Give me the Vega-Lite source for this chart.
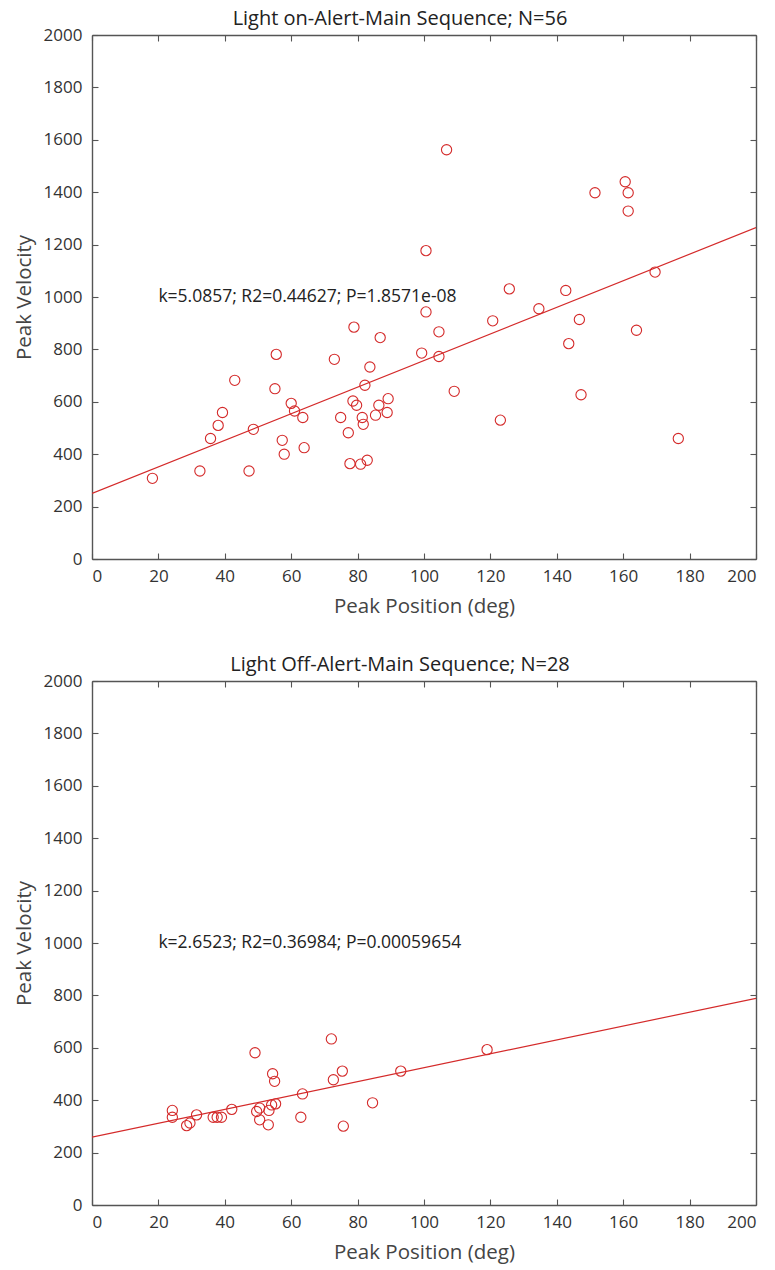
{
  "$schema": "https://vega.github.io/schema/vega-lite/v6.json",
  "background": "white",
  "padding": {"left": 14, "top": 9, "right": 8, "bottom": 2},
  "spacing": 38,
  "config": {
    "view": {"stroke": null},
    "font": "Open Sans",
    "title": {"fontSize": 20, "fontWeight": "normal", "color": "#222222", "font": "Open Sans", "offset": -3, "dx": -24},
    "axis": {
      "grid": false,
      "domainColor": "#555555",
      "domainWidth": 1.4,
      "tickColor": "#555555",
      "tickWidth": 1.1,
      "tickSize": -6,
      "format": "d",
      "labelFont": "Open Sans",
      "labelFontSize": 17,
      "labelColor": "#333333",
      "labelPadding": 16,
      "titleFont": "Open Sans",
      "titleFontSize": 20.5,
      "titleFontWeight": "normal",
      "titleColor": "#444444",
      "titlePadding": 9
    }
  },
  "datasets": {
    "on": [
      {"pos": 18.2, "vel": 308}, {"pos": 32.5, "vel": 336}, {"pos": 35.7, "vel": 460}, {"pos": 38, "vel": 510},
      {"pos": 39.3, "vel": 559}, {"pos": 43, "vel": 682}, {"pos": 47.3, "vel": 336}, {"pos": 48.6, "vel": 495},
      {"pos": 55.1, "vel": 650}, {"pos": 55.5, "vel": 781}, {"pos": 57.3, "vel": 453}, {"pos": 57.9, "vel": 400},
      {"pos": 60, "vel": 594}, {"pos": 61, "vel": 565}, {"pos": 63.5, "vel": 540}, {"pos": 63.9, "vel": 425},
      {"pos": 73, "vel": 762}, {"pos": 74.9, "vel": 540}, {"pos": 77.2, "vel": 482}, {"pos": 77.7, "vel": 364},
      {"pos": 78.6, "vel": 603}, {"pos": 78.9, "vel": 885}, {"pos": 79.7, "vel": 587}, {"pos": 80.9, "vel": 362},
      {"pos": 81.4, "vel": 540}, {"pos": 81.7, "vel": 514}, {"pos": 82.2, "vel": 663}, {"pos": 82.9, "vel": 377},
      {"pos": 83.7, "vel": 733}, {"pos": 85.4, "vel": 549}, {"pos": 86.4, "vel": 587}, {"pos": 86.8, "vel": 845},
      {"pos": 88.9, "vel": 559}, {"pos": 89.2, "vel": 612}, {"pos": 99.3, "vel": 786}, {"pos": 100.6, "vel": 1177},
      {"pos": 100.6, "vel": 943}, {"pos": 104.5, "vel": 773}, {"pos": 104.5, "vel": 867}, {"pos": 106.8, "vel": 1562},
      {"pos": 109.1, "vel": 640}, {"pos": 120.7, "vel": 909}, {"pos": 123, "vel": 530}, {"pos": 125.7, "vel": 1031},
      {"pos": 134.6, "vel": 955}, {"pos": 142.7, "vel": 1025}, {"pos": 143.6, "vel": 822}, {"pos": 146.8, "vel": 914},
      {"pos": 147.3, "vel": 627}, {"pos": 151.5, "vel": 1398}, {"pos": 160.6, "vel": 1440}, {"pos": 161.5, "vel": 1398},
      {"pos": 161.5, "vel": 1328}, {"pos": 164, "vel": 873}, {"pos": 169.6, "vel": 1095}, {"pos": 176.6, "vel": 460}
    ],
    "off": [
      {"pos": 24.2, "vel": 361}, {"pos": 24.2, "vel": 335}, {"pos": 28.5, "vel": 303}, {"pos": 29.5, "vel": 313},
      {"pos": 31.5, "vel": 344}, {"pos": 36.5, "vel": 335}, {"pos": 37.7, "vel": 335}, {"pos": 39, "vel": 335},
      {"pos": 42.1, "vel": 365}, {"pos": 49.1, "vel": 581}, {"pos": 49.6, "vel": 357}, {"pos": 50.5, "vel": 370},
      {"pos": 50.5, "vel": 325}, {"pos": 53.1, "vel": 306}, {"pos": 53.3, "vel": 361}, {"pos": 54.1, "vel": 382},
      {"pos": 55.3, "vel": 386}, {"pos": 54.4, "vel": 501}, {"pos": 55, "vel": 472}, {"pos": 62.9, "vel": 335},
      {"pos": 63.4, "vel": 424}, {"pos": 72.1, "vel": 634}, {"pos": 72.7, "vel": 478}, {"pos": 75.4, "vel": 511},
      {"pos": 75.7, "vel": 301}, {"pos": 84.5, "vel": 390}, {"pos": 93, "vel": 511}, {"pos": 119, "vel": 593}
    ],
    "on_fit": [{"pos": 0, "vel": 250}, {"pos": 200, "vel": 1265}],
    "off_fit": [{"pos": 0, "vel": 259}, {"pos": 200, "vel": 789}],
    "on_txt": [{"pos": 20, "vel": 1000, "label": "k=5.0857; R2=0.44627; P=1.8571e-08"}],
    "off_txt": [{"pos": 20, "vel": 1000, "label": "k=2.6523; R2=0.36984; P=0.00059654"}]
  },
  "vconcat": [
    {
      "title": {"text": "Light on-Alert-Main Sequence; N=56"},
      "width": 664,
      "height": 524,
      "resolve": {"axis": {"x": "independent", "y": "independent"}},
      "layer": [
        {
          "data": {"name": "on"},
          "mark": {"type": "point", "shape": "circle", "filled": false, "color": "#d42a2a", "size": 105, "strokeWidth": 1.1, "opacity": 1},
          "encoding": {
            "x": {"field": "pos", "type": "quantitative", "scale": {"domain": [0, 200], "nice": false, "zero": false}, "axis": {"title": "Peak Position (deg)", "values": [0,20,40,60,80,100,120,140,160,180,200], "orient": "bottom", "labelPadding": 15, "titlePadding": 12}},
            "y": {"field": "vel", "type": "quantitative", "scale": {"domain": [0, 2000], "nice": false}, "axis": {"title": "Peak Velocity", "values": [0,200,400,600,800,1000,1200,1400,1600,1800,2000], "orient": "left"}}
          }
        },
        {
          "data": {"name": "on_fit"},
          "mark": {"type": "line", "color": "#d42a2a", "strokeWidth": 1.2, "clip": true},
          "encoding": {
            "x": {"field": "pos", "type": "quantitative", "axis": {"orient": "top", "labels": false, "title": null, "values": [0,20,40,60,80,100,120,140,160,180,200]}},
            "y": {"field": "vel", "type": "quantitative", "axis": {"orient": "right", "labels": false, "title": null, "values": [0,200,400,600,800,1000,1200,1400,1600,1800,2000]}}
          }
        },
        {
          "data": {"name": "on_txt"},
          "mark": {"type": "text", "align": "left", "baseline": "middle", "fontSize": 17.5, "color": "#222222", "font": "Open Sans"},
          "encoding": {
            "x": {"field": "pos", "type": "quantitative", "axis": null},
            "y": {"field": "vel", "type": "quantitative", "axis": null},
            "text": {"field": "label"}
          }
        }
      ]
    },
    {
      "title": {"text": "Light Off-Alert-Main Sequence; N=28"},
      "width": 664,
      "height": 524,
      "resolve": {"axis": {"x": "independent", "y": "independent"}},
      "layer": [
        {
          "data": {"name": "off"},
          "mark": {"type": "point", "shape": "circle", "filled": false, "color": "#d42a2a", "size": 105, "strokeWidth": 1.1, "opacity": 1},
          "encoding": {
            "x": {"field": "pos", "type": "quantitative", "scale": {"domain": [0, 200], "nice": false, "zero": false}, "axis": {"title": "Peak Position (deg)", "values": [0,20,40,60,80,100,120,140,160,180,200], "orient": "bottom", "labelPadding": 15, "titlePadding": 12}},
            "y": {"field": "vel", "type": "quantitative", "scale": {"domain": [0, 2000], "nice": false}, "axis": {"title": "Peak Velocity", "values": [0,200,400,600,800,1000,1200,1400,1600,1800,2000], "orient": "left"}}
          }
        },
        {
          "data": {"name": "off_fit"},
          "mark": {"type": "line", "color": "#d42a2a", "strokeWidth": 1.2, "clip": true},
          "encoding": {
            "x": {"field": "pos", "type": "quantitative", "axis": {"orient": "top", "labels": false, "title": null, "values": [0,20,40,60,80,100,120,140,160,180,200]}},
            "y": {"field": "vel", "type": "quantitative", "axis": {"orient": "right", "labels": false, "title": null, "values": [0,200,400,600,800,1000,1200,1400,1600,1800,2000]}}
          }
        },
        {
          "data": {"name": "off_txt"},
          "mark": {"type": "text", "align": "left", "baseline": "middle", "fontSize": 17.5, "color": "#222222", "font": "Open Sans"},
          "encoding": {
            "x": {"field": "pos", "type": "quantitative", "axis": null},
            "y": {"field": "vel", "type": "quantitative", "axis": null},
            "text": {"field": "label"}
          }
        }
      ]
    }
  ]
}
